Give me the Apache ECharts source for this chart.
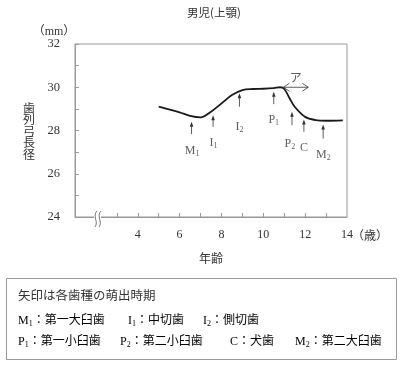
<!DOCTYPE html>
<html><head><meta charset="utf-8">
<script src="https://cdn.jsdelivr.net/npm/echarts@6/dist/echarts.min.js"></script>
<style>html,body{margin:0;padding:0;background:#fff}#c{width:400px;height:368px}</style>
</head><body><div id="c"></div>
<script>
// curve: age (years) vs arch length (mm)
const ages    = [5, 6, 6.5, 7, 7.5, 8, 8.5, 9, 9.5, 10, 10.5, 10.8, 11, 11.25, 11.5, 12, 12.5, 13, 13.8];
const lengths = [29.1, 28.84, 28.68, 28.61, 28.87, 29.25, 29.64, 29.87, 29.92, 29.93, 29.96, 30.0, 29.92, 29.5, 29.1, 28.63, 28.48, 28.45, 28.47];
// eruption arrows
const toothNames  = ['M1', 'I1', 'I2', 'P1', 'P2', 'C', 'M2'];
const eruptAges   = [6.57, 7.6, 8.86, 10.5, 11.37, 11.94, 12.86];
const arrowBottom = [27.83, 28.17, 29.1, 29.22, 28.25, 27.94, 27.63];
const arrowTop    = [28.4, 28.71, 29.72, 29.79, 28.87, 28.51, 28.28];
const labelAges   = [6.6, 7.62, 8.86, 10.5, 11.27, 11.94, 12.87];
const labelLens   = [27.06, 27.42, 28.17, 28.48, 27.36, 27.22, 26.86];
// double arrow "ア"
const aArrow = {from: 10.96, to: 12.15, len: 30.0, labelAge: 11.55, labelLen: 30.41};
const xTicks = [4, 6, 8, 10, 12, 14];
const yTicks = [24, 26, 28, 30, 32];

const FONT = "'Liberation Serif','Noto Sans CJK JP',serif";
const TXT = '#333';
const AX = '#999';

function sub(name) {
  const m = name.match(/^([A-Z])(\d?)$/);
  return m[2] ? '{b|' + m[1] + '}{s|' + m[2] + '}' : '{b|' + m[1] + '}';
}
const richSub = (big, small, cjk) => ({
  b: {fontSize: big, fontFamily: FONT, color: TXT},
  s: {fontSize: small, fontFamily: FONT, color: TXT, verticalAlign: 'bottom', padding: [big*0.45, 0, 0, 0]},
  t: {fontSize: cjk || big, fontFamily: FONT, color: TXT}
});

const chart = echarts.init(document.getElementById('c'));
chart.setOption({
  animation: false,
  grid: {left: 75, right: 53, top: 44, bottom: 151, show: true, borderColor: AX, borderWidth: 1},
  xAxis: {
    type: 'value', min: 1, max: 14, interval: 1,
    axisLine: {show: true, lineStyle: {color: AX}},
    axisTick: {inside: true, length: 4, lineStyle: {color: AX},
      customValues: [3,4,5,6,7,8,9,10,11,12,13]},
    splitLine: {show: false},
    axisLabel: {margin: 12, fontSize: 12, fontFamily: FONT, color: TXT,
      customValues: xTicks, formatter: v => String(v)}
  },
  yAxis: {
    type: 'value', min: 24, max: 32, interval: 1,
    axisLine: {show: true, lineStyle: {color: AX}},
    axisTick: {inside: true, length: 4, lineStyle: {color: AX}},
    splitLine: {show: false},
    axisLabel: {margin: 15, fontSize: 12.5, fontFamily: FONT, color: TXT,
      customValues: yTicks, formatter: v => String(v)}
  },
  series: [
    {type: 'line', data: ages.map((a, i) => [a, lengths[i]]), smooth: 0.35, symbol: 'none',
     lineStyle: {color: '#1a1a1a', width: 1.8}, z: 3},
    {type: 'custom', z: 4,
     data: eruptAges.map((a, i) => [a, arrowBottom[i], arrowTop[i]]),
     renderItem: (params, api) => {
       const b = api.coord([api.value(0), api.value(1)]);
       const t = api.coord([api.value(0), api.value(2)]);
       return {type: 'group', children: [
         {type: 'line', shape: {x1: b[0], y1: b[1], x2: t[0], y2: t[1] + 3}, style: {stroke: '#333', lineWidth: 0.8}},
         {type: 'polygon', shape: {points: [[t[0], t[1]], [t[0] - 1.8, t[1] + 5], [t[0] + 1.8, t[1] + 5]]}, style: {fill: '#333'}}
       ]};
     }},
    {type: 'custom', z: 4, data: [[aArrow.from, aArrow.to, aArrow.len]],
     renderItem: (params, api) => {
       const l = api.coord([api.value(0), api.value(2)]);
       const r = api.coord([api.value(1), api.value(2)]);
       const st = {stroke: '#333', lineWidth: 0.8, fill: null};
       return {type: 'group', children: [
         {type: 'line', shape: {x1: l[0], y1: l[1], x2: r[0], y2: r[1]}, style: st},
         {type: 'polyline', shape: {points: [[l[0] + 6, l[1] - 4], [l[0], l[1]], [l[0] + 6, l[1] + 4]]}, style: st},
         {type: 'polyline', shape: {points: [[r[0] - 6, r[1] - 4], [r[0], r[1]], [r[0] - 6, r[1] + 4]]}, style: st}
       ]};
     }},
    {type: 'scatter', symbolSize: 0, z: 5,
     data: toothNames.map((n, i) => ({value: [labelAges[i], labelLens[i]], name: n})),
     label: {show: true, position: 'inside', formatter: p => sub(p.name), rich: richSub(12, 8)}},
    {type: 'scatter', symbolSize: 0, z: 5,
     data: [{value: [aArrow.labelAge, aArrow.labelLen], name: 'ア'}],
     label: {show: true, position: 'inside', formatter: 'ア', fontSize: 12, fontFamily: FONT, color: TXT}}
  ],
  graphic: [
    {type: 'text', x: 214, y: 13, style: {text: '男児(上顎)', font: "11.5px 'Noto Sans CJK JP'", fill: TXT, align: 'center', verticalAlign: 'middle'}},
    {type: 'text', x: 54, y: 32, style: {text: '（mm）', font: "12px " + FONT, fill: TXT, align: 'center', verticalAlign: 'middle'}},
    {type: 'text', x: 29, y: 131, style: {text: '歯\n列\n弓\n長\n径', font: "12px 'Noto Sans CJK JP'", lineHeight: 11.5, fill: TXT, align: 'center', verticalAlign: 'middle'}},
    {type: 'text', x: 370, y: 235, style: {text: '（歳）', font: "12px 'Noto Sans CJK JP'", fill: TXT, align: 'center', verticalAlign: 'middle'}},
    {type: 'text', x: 211, y: 258, style: {text: '年齢', font: "12px 'Noto Sans CJK JP'", fill: TXT, align: 'center', verticalAlign: 'middle'}},
    // axis break
    {type: 'rect', z: 100, shape: {x: 94, y: 214, width: 7, height: 6}, style: {fill: '#fff'}},
    {type: 'bezierCurve', z: 101, shape: {x1: 97, y1: 211, cpx1: 92, cpy1: 216, cpx2: 99, cpy2: 222, x2: 95, y2: 227}, style: {stroke: '#555', lineWidth: 0.8, fill: null}},
    {type: 'bezierCurve', z: 101, shape: {x1: 101, y1: 211, cpx1: 96, cpy1: 216, cpx2: 103, cpy2: 222, x2: 99, y2: 227}, style: {stroke: '#555', lineWidth: 0.8, fill: null}},
    // legend box
    {type: 'rect', z: 10, shape: {x: 6.5, y: 278.5, width: 390, height: 81}, style: {fill: '#fff', stroke: AX, lineWidth: 1}},
    {type: 'text', z: 11, x: 18, y: 295, style: {text: '矢印は各歯種の萌出時期', font: "12.5px 'Noto Sans CJK JP'", fill: TXT, verticalAlign: 'middle'}},
    {type: 'text', z: 11, x: 18, y: 321, style: {text: '{b|M}{s|1}{t|：第一大臼歯}', rich: richSub(12, 8, 12), verticalAlign: 'middle'}},
    {type: 'text', z: 11, x: 128, y: 321, style: {text: '{b|I}{s|1}{t|：中切歯}', rich: richSub(12, 8, 12), verticalAlign: 'middle'}},
    {type: 'text', z: 11, x: 203, y: 321, style: {text: '{b|I}{s|2}{t|：側切歯}', rich: richSub(12, 8, 12), verticalAlign: 'middle'}},
    {type: 'text', z: 11, x: 18, y: 342, style: {text: '{b|P}{s|1}{t|：第一小臼歯}', rich: richSub(12, 8, 12), verticalAlign: 'middle'}},
    {type: 'text', z: 11, x: 120, y: 342, style: {text: '{b|P}{s|2}{t|：第二小臼歯}', rich: richSub(12, 8, 12), verticalAlign: 'middle'}},
    {type: 'text', z: 11, x: 230, y: 342, style: {text: '{b|C}{t|：犬歯}', rich: richSub(12, 8, 12), verticalAlign: 'middle'}},
    {type: 'text', z: 11, x: 295, y: 342, style: {text: '{b|M}{s|2}{t|：第二大臼歯}', rich: richSub(12, 8, 12), verticalAlign: 'middle'}}
  ]
});
</script></body></html>
